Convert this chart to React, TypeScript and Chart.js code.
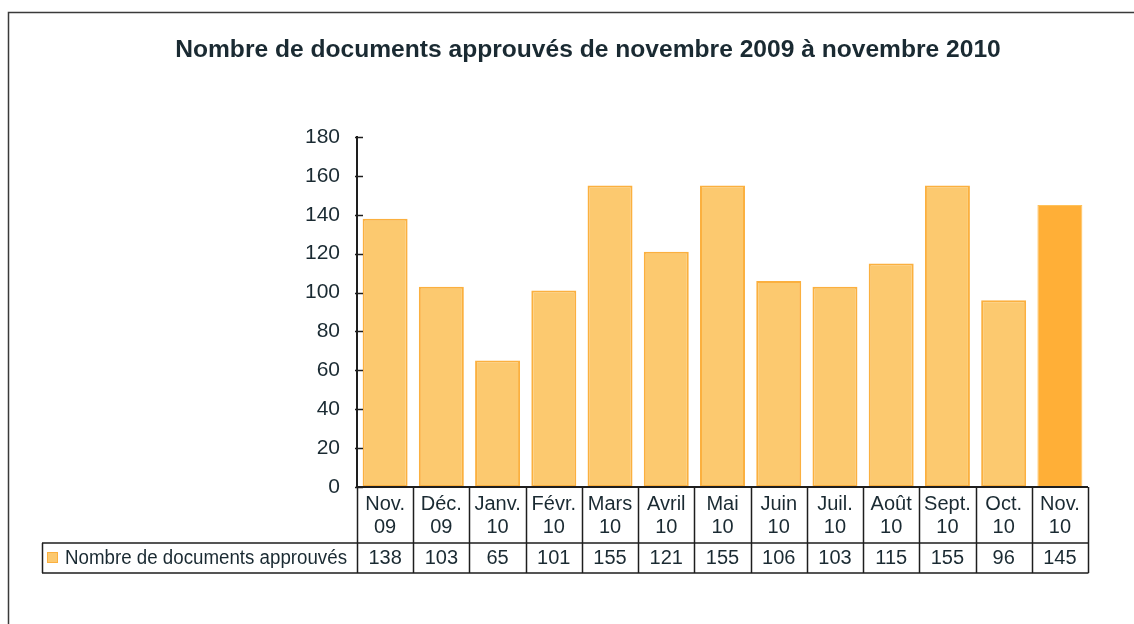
import React, { useEffect, useRef } from 'react';
import { Chart, registerables } from 'chart.js';

Chart.register(...registerables);

const TITLE = 'Nombre de documents approuvés de novembre 2009 à novembre 2010';
const SERIES_NAME = 'Nombre de documents approuvés';
const MONTHS = ['Nov.', 'Déc.', 'Janv.', 'Févr.', 'Mars', 'Avril', 'Mai', 'Juin', 'Juil.', 'Août', 'Sept.', 'Oct.', 'Nov.'];
const YEARS = ['09', '09', '10', '10', '10', '10', '10', '10', '10', '10', '10', '10', '10'];
const VALUES = [138, 103, 65, 101, 155, 121, 155, 106, 103, 115, 155, 96, 145];
const Y_MIN = 0;
const Y_MAX = 180;
const Y_STEP = 20;

const FONT = "'Liberation Sans', Arial, sans-serif";
const TEXT = '#1a2a32';
const LINE = '#1e1e1e';
const BAR_FILL = '#FCC96F';
const BAR_EDGE = '#FBB03F';
const LAST_FILL = '#FFAF37';
const LAST_EDGE = '#FFC25A';

const W = 1134;
const H = 624;

const tablePlugin = {
  id: 'excelTable',
  afterDraw(chart: any) {
    const { ctx, chartArea } = chart;
    const xs = chart.scales.x;
    const ys = chart.scales.y;
    const n = MONTHS.length;
    const left = chartArea.left;
    const right = chartArea.right;
    const bottom = chartArea.bottom;
    const cw = (right - left) / n;
    const row1Bottom = bottom + 56;
    const row2Bottom = row1Bottom + 30;
    const legendLeft = 42;

    ctx.save();
    // outer frame
    ctx.strokeStyle = '#3a3a3a';
    ctx.lineWidth = 1.5;
    ctx.strokeRect(8.5, 12.5, W + 50, H + 50);

    // title
    ctx.fillStyle = TEXT;
    ctx.font = `bold 24.6px ${FONT}`;
    ctx.textAlign = 'center';
    ctx.textBaseline = 'alphabetic';
    ctx.fillText(TITLE, 588, 57);

    // y ticks (cross marks)
    ctx.strokeStyle = LINE;
    ctx.lineWidth = 1.5;
    for (let v = Y_MIN; v <= Y_MAX; v += Y_STEP) {
      const y = Math.round(ys.getPixelForValue(v)) + 0.5;
      ctx.beginPath();
      ctx.moveTo(left - 2, y);
      ctx.lineTo(left + 6, y);
      ctx.stroke();
    }

    // x axis line
    ctx.lineWidth = 2;
    ctx.beginPath();
    ctx.moveTo(left - 1, bottom);
    ctx.lineTo(right, bottom);
    ctx.stroke();

    // table grid
    ctx.lineWidth = 1.5;
    ctx.beginPath();
    for (let i = 0; i <= n; i++) {
      const x = Math.round(left + i * cw) + 0.5;
      ctx.moveTo(x, bottom);
      ctx.lineTo(x, row2Bottom);
    }
    ctx.moveTo(legendLeft, row1Bottom);
    ctx.lineTo(right, row1Bottom);
    ctx.moveTo(legendLeft, row2Bottom);
    ctx.lineTo(right + 0.5, row2Bottom);
    ctx.moveTo(legendLeft + 0.5, row1Bottom);
    ctx.lineTo(legendLeft + 0.5, row2Bottom);
    ctx.stroke();

    // category labels and values
    ctx.fillStyle = TEXT;
    ctx.textAlign = 'center';
    ctx.textBaseline = 'middle';
    ctx.font = `20px ${FONT}`;
    for (let i = 0; i < n; i++) {
      const cx = xs.getPixelForValue(i);
      ctx.fillText(MONTHS[i], cx, bottom + 17, cw - 4);
      ctx.fillText(YEARS[i], cx, bottom + 40, cw - 4);
      ctx.fillText(String(VALUES[i]), cx, row1Bottom + 15, cw - 4);
    }

    // legend key
    const ky = row1Bottom + 15;
    ctx.fillStyle = BAR_FILL;
    ctx.fillRect(47, ky - 6, 11, 11);
    ctx.strokeStyle = BAR_EDGE;
    ctx.lineWidth = 1;
    ctx.strokeRect(47.5, ky - 5.5, 10, 10);
    ctx.fillStyle = TEXT;
    ctx.textAlign = 'left';
    ctx.font = `20px ${FONT}`;
    ctx.fillText(SERIES_NAME, 65, ky, 282);
    ctx.restore();
  },
};

export default function App() {
  const ref = useRef<HTMLCanvasElement>(null);

  useEffect(() => {
    if (!ref.current) return;
    const last = VALUES.length - 1;
    const chart = new Chart(ref.current, {
      type: 'bar',
      data: {
        labels: MONTHS.map((m, i) => `${m} ${YEARS[i]}`),
        datasets: [
          {
            label: SERIES_NAME,
            data: VALUES,
            backgroundColor: VALUES.map((_, i) => (i === last ? LAST_FILL : BAR_FILL)),
            borderColor: VALUES.map((_, i) => (i === last ? LAST_EDGE : BAR_EDGE)),
            borderWidth: VALUES.map((_, i) => (i === last ? 1 : 2)),
            borderSkipped: false,
            barPercentage: 0.8,
            categoryPercentage: 1,
          },
        ],
      },
      options: {
        responsive: false,
        animation: false,
        devicePixelRatio: 1,
        layout: { padding: { top: 137, bottom: H - 487, left: 0, right: W - 1088 } },
        plugins: {
          legend: { display: false },
          title: { display: false },
          tooltip: { enabled: false },
        },
        scales: {
          x: { display: false },
          y: {
            min: Y_MIN,
            max: Y_MAX,
            afterFit: (s: any) => {
              s.width = 357;
            },
            ticks: {
              stepSize: Y_STEP,
              padding: 17,
              color: TEXT,
              font: { size: 21, family: FONT },
            },
            grid: { display: false, drawTicks: false },
            border: { display: true, color: LINE, width: 2 },
          },
        },
      },
      plugins: [tablePlugin],
    });
    return () => chart.destroy();
  }, []);

  return (
    <div style={{ position: 'absolute', left: 0, top: 0, width: W, height: H, background: '#fff' }}>
      <canvas ref={ref} width={W} height={H} style={{ display: 'block' }} />
    </div>
  );
}
